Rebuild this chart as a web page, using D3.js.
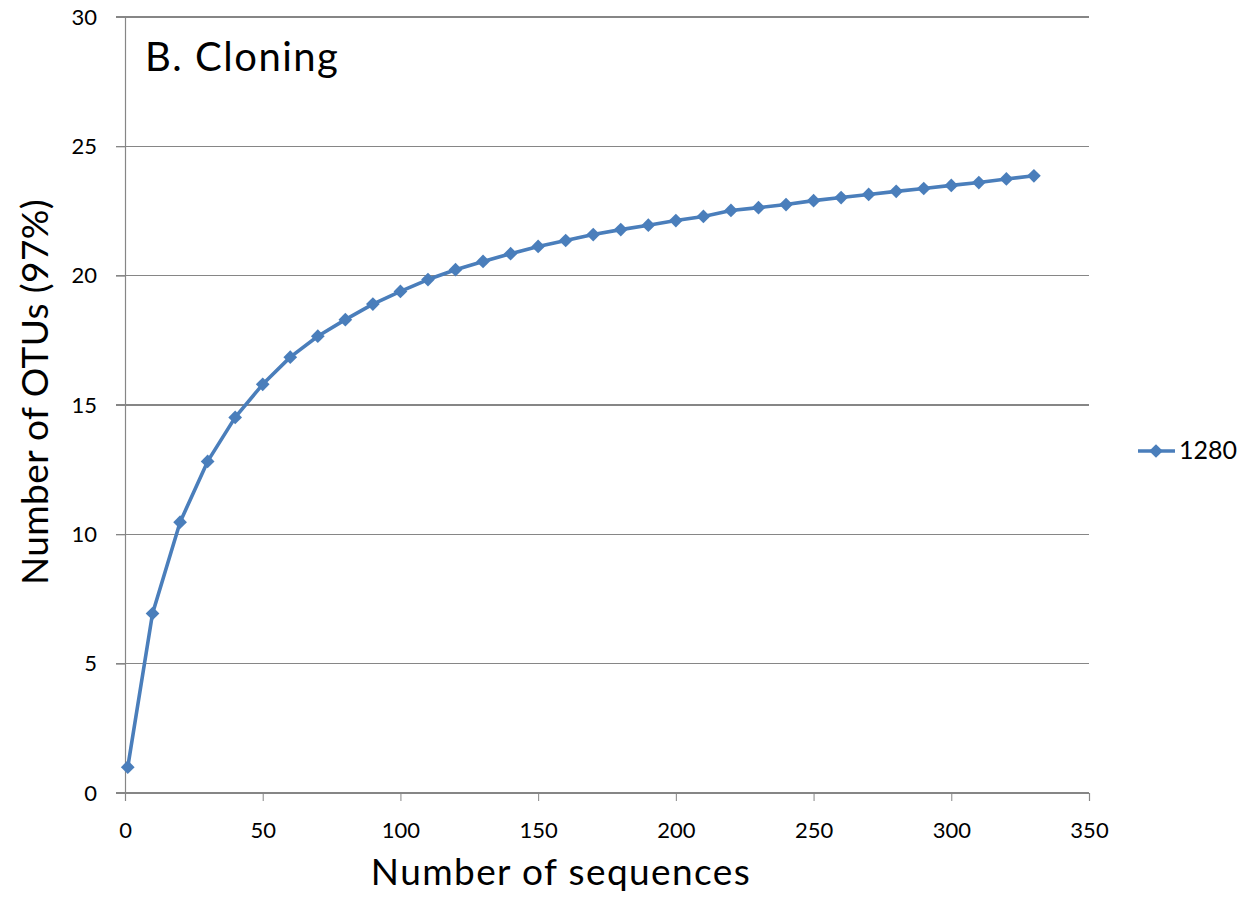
<!DOCTYPE html>
<html><head><meta charset="utf-8">
<script src="https://cdn.jsdelivr.net/npm/d3@7/dist/d3.min.js"></script>
<style>body{margin:0;background:#fff;} svg{display:block;} text{font-family:Lato,"Open Sans",sans-serif;}</style>
</head><body>
<svg id="c" width="1239" height="904"></svg>
<script>
const seqs = [1,10,20,30,40,50,60,70,80,90,100,110,120,130,140,150,160,170,180,190,200,210,220,230,240,250,260,270,280,290,300,310,320,330];
const otus = [1.0,6.94,10.47,12.82,14.52,15.80,16.85,17.66,18.30,18.90,19.39,19.85,20.23,20.55,20.85,21.13,21.36,21.59,21.78,21.95,22.13,22.29,22.52,22.63,22.75,22.90,23.02,23.14,23.26,23.37,23.49,23.60,23.74,23.86];
const xTicks = [0,50,100,150,200,250,300,350];
const yTicks = [0,5,10,15,20,25,30];
const seriesName = "1280";
const title = "B. Cloning";
const xLabel = "Number of sequences";
const yLabel = "Number of OTUs (97%)";

const svg = d3.select("#c");
const x = d3.scaleLinear().domain([0,350]).range([125,1089]);
const y = d3.scaleLinear().domain([0,30]).range([793,17]);
const grey = "#868686", blue = "#4a7ebb";

// gridlines
svg.append("g").selectAll("line").data(yTicks).join("line")
  .attr("x1",116).attr("x2",1089).attr("y1",d=>y(d)).attr("y2",d=>y(d))
  .attr("stroke",grey).attr("stroke-width",1.2).attr("shape-rendering","crispEdges");

// y axis
const ya = svg.append("g").attr("transform","translate(125,0)")
  .call(d3.axisLeft(y).tickValues(yTicks).tickSize(9).tickPadding(19));
ya.select(".domain").attr("stroke",grey).attr("stroke-width",1.2);
ya.selectAll(".tick line").attr("stroke",grey);
ya.selectAll("text").attr("font-size",22).attr("fill","#000");

// x axis
const xa = svg.append("g").attr("transform","translate(0,793)")
  .call(d3.axisBottom(x).tickValues(xTicks).tickSize(8).tickPadding(21));
xa.select(".domain").attr("stroke",grey).attr("stroke-width",1.2);
xa.selectAll(".tick line").attr("stroke",grey);
xa.selectAll("text").attr("font-size",22).attr("fill","#000");

// line
const pts = seqs.map((s,i)=>[s,otus[i]]);
svg.append("path").datum(pts)
  .attr("d",d3.line().x(d=>x(d[0])).y(d=>y(d[1])))
  .attr("fill","none").attr("stroke",blue).attr("stroke-width",3.6).attr("stroke-linejoin","round");
const diamond = d3.symbol().type(d3.symbolDiamond2).size(120);
svg.append("g").selectAll("path").data(pts).join("path")
  .attr("d",diamond).attr("transform",d=>`translate(${x(d[0])},${y(d[1])})`)
  .attr("fill",blue);

// title
svg.append("text").attr("x",145).attr("y",71).attr("font-size",40).attr("letter-spacing",1.5).text(title);

// axis labels
svg.append("text").attr("x",561).attr("y",885).attr("text-anchor","middle").attr("font-size",37).attr("letter-spacing",1.4).text(xLabel);
svg.append("text").attr("transform","translate(48,392) rotate(-90)").attr("text-anchor","middle").attr("font-size",37).attr("letter-spacing",0.4).text(yLabel);

// legend
svg.append("line").attr("x1",1138).attr("x2",1175).attr("y1",451).attr("y2",451).attr("stroke",blue).attr("stroke-width",3.6);
svg.append("path").attr("d",diamond).attr("transform","translate(1156,451)").attr("fill",blue);
svg.append("text").attr("x",1179).attr("y",459).attr("font-size",25).text(seriesName);
</script>
</body></html>
